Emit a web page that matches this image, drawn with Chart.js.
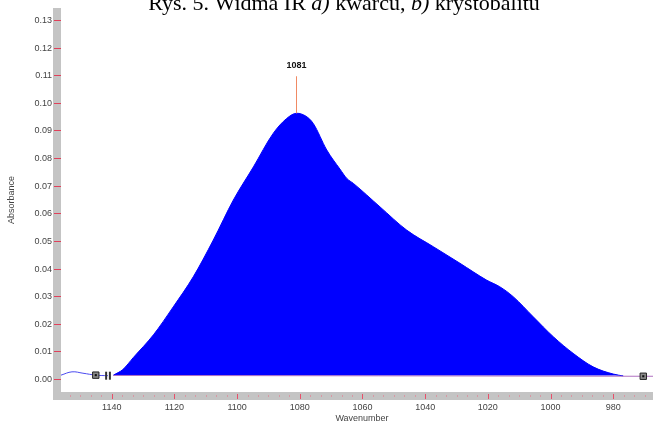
<!DOCTYPE html>
<html>
<head>
<meta charset="utf-8">
<script src="https://cdn.jsdelivr.net/npm/chart.js@4/dist/chart.umd.min.js"></script>
<style>
  html, body { margin: 0; padding: 0; background: #fff; overflow: hidden; }
  #wrap { position: relative; width: 653px; height: 425px; }
</style>
</head>
<body>
<div id="wrap"><canvas id="c" width="653" height="425"></canvas></div>
<script>
// IR absorption band of the sample (wavenumber in cm-1, absorbance)
const bandWave = [1139.5, 1136.5, 1133.1, 1126.7, 1120.4, 1114.0, 1107.6, 1101.2, 1094.8, 1088.5,
                  1084.2, 1081.0, 1078.0, 1075.7, 1071.4, 1067.2, 1065.0, 1062.9, 1054.4, 1045.9,
                  1037.4, 1028.9, 1020.4, 1016.2, 1011.9, 1005.5, 999.1, 992.8, 986.4, 980.0, 976.8];
const bandAbs  = [0.0016, 0.0036, 0.0080, 0.0162, 0.0263, 0.0372, 0.0505, 0.0650, 0.0770, 0.0891,
                  0.0945, 0.0964, 0.0953, 0.0927, 0.0831, 0.0762, 0.0728, 0.0710, 0.0625, 0.0541,
                  0.0481, 0.0421, 0.0360, 0.0336, 0.0300, 0.0227, 0.0155, 0.0095, 0.0046, 0.0020, 0.0013];

// spectrum outside the integrated band (left side)
const leftWave = [1156.2, 1152.7, 1149.2, 1145.1, 1141.2];
const leftAbs  = [0.0016, 0.0028, 0.0023, 0.0016, 0.0014];

// integration baseline
const baseWave = [1139.5, 970.4, 967.3];
const baseAbs  = [0.0015, 0.0012, 0.0012];
const baseLevel = 0.0015;

// baseline anchor markers
const markerWave = [1145.1, 970.4];
const markerAbs  = [0.0016, 0.0012];
const cursorWave = [1141.8, 1140.6];
const cursorAbs  = [0.0014, 0.0014];

// labelled peak
const peakWave = 1081;
const peakAbs  = 0.0964;

// axes
const xTickValues = [1140, 1120, 1100, 1080, 1060, 1040, 1020, 1000, 980];
const yTickValues = [0.00, 0.01, 0.02, 0.03, 0.04, 0.05, 0.06, 0.07, 0.08, 0.09, 0.10, 0.11, 0.12, 0.13];
const xMin = 967.3, xMax = 1156.2;
const yMin = -0.0045, yMax = 0.1345;

const titleParts = [
  ['Rys. 5. Widma IR ', false], ['a)', true], [' kwarcu, ', false], ['b)', true], [' krystobalitu', false]
];
const xAxisTitle = 'Wavenumber';
const yAxisTitle = 'Absorbance';

const pts = (xs, ys) => xs.map((x, i) => ({ x, y: ys[i] }));

Chart.defaults.font.family = '"Liberation Sans", Arial, sans-serif';

const decorations = {
  id: 'decorations',
  beforeDraw(chart) {
    const { ctx, chartArea: a } = chart;
    ctx.save();
    ctx.fillStyle = '#c4c4c4';
    ctx.fillRect(a.left - 8, a.top, 8, a.bottom - a.top + 8);
    ctx.fillRect(a.left - 8, a.bottom, a.right - a.left + 8, 8);
    // x-axis tick marks inside the grey band
    const xs = chart.scales.x;
    const minor = 20 / 6;
    for (let k = -30; k <= 60; k++) {
      const v = 1140 - k * minor;
      if (v < xMin || v > xMax) continue;
      const px = Math.round(xs.getPixelForValue(v)) + 0.5;
      const major = k % 6 === 0;
      ctx.strokeStyle = major ? '#e8506a' : '#d898a4';
      ctx.lineWidth = 1;
      ctx.beginPath();
      ctx.moveTo(px, a.bottom + (major ? 2 : 3));
      ctx.lineTo(px, a.bottom + (major ? 7 : 5));
      ctx.stroke();
    }
    ctx.restore();
  },
  afterDatasetsDraw(chart) {
    const { ctx } = chart;
    const xs = chart.scales.x, ys = chart.scales.y;
    const px = Math.round(xs.getPixelForValue(peakWave)) - 0.5;
    const py = ys.getPixelForValue(peakAbs);
    ctx.save();
    ctx.strokeStyle = '#f08a64';
    ctx.lineWidth = 1;
    ctx.beginPath();
    ctx.moveTo(px, py);
    ctx.lineTo(px, py - 37);
    ctx.stroke();
    ctx.fillStyle = '#111';
    ctx.font = 'bold 9px "Liberation Sans", Arial, sans-serif';
    ctx.textAlign = 'center';
    ctx.textBaseline = 'middle';
    ctx.fillText(String(peakWave), px, py - 48);
    ctx.restore();
  },
  afterDraw(chart) {
    const { ctx } = chart;
    ctx.save();
    // caption
    ctx.fillStyle = '#000';
    ctx.textBaseline = 'alphabetic';
    const fontFor = it => (it ? 'italic ' : '') + '22px "Liberation Serif", "Times New Roman", serif';
    let total = 0;
    titleParts.forEach(([t, it]) => { ctx.font = fontFor(it); total += ctx.measureText(t).width; });
    let x = 344 - total / 2;
    ctx.textAlign = 'left';
    titleParts.forEach(([t, it]) => { ctx.font = fontFor(it); ctx.fillText(t, x, 10); x += ctx.measureText(t).width; });
    // axis titles
    ctx.fillStyle = '#444';
    ctx.font = '9px "Liberation Sans", Arial, sans-serif';
    ctx.textAlign = 'center';
    ctx.textBaseline = 'middle';
    ctx.fillText(xAxisTitle, 362, 419);
    ctx.translate(12, 200);
    ctx.rotate(-Math.PI / 2);
    ctx.fillText(yAxisTitle, 0, 0);
    ctx.restore();
  }
};

new Chart(document.getElementById('c'), {
  type: 'line',
  data: {
    datasets: [
      {
        label: 'cursor',
        data: pts(cursorWave, cursorAbs),
        showLine: false,
        pointStyle: 'line',
        rotation: 90,
        pointRadius: 4,
        pointBorderWidth: 2,
        pointBorderColor: '#333',
        order: 0
      },
      {
        label: 'marker core',
        data: pts(markerWave, markerAbs),
        showLine: false,
        pointStyle: 'rect',
        pointRadius: 1.5,
        pointBackgroundColor: '#111',
        pointBorderWidth: 0,
        order: 0
      },
      {
        label: 'markers',
        data: pts(markerWave, markerAbs),
        showLine: false,
        pointStyle: 'rect',
        pointRadius: 4.5,
        pointBackgroundColor: '#8a8a8a',
        pointBorderColor: '#222',
        pointBorderWidth: 1,
        order: 1
      },
      {
        label: 'baseline',
        data: pts(baseWave, baseAbs),
        borderColor: '#b070c0',
        borderWidth: 1,
        pointRadius: 0,
        order: 2
      },
      {
        label: 'spectrum',
        data: pts(leftWave, leftAbs),
        borderColor: '#4a4af0',
        borderWidth: 1,
        pointRadius: 0,
        tension: 0.4,
        order: 3
      },
      {
        label: 'band',
        data: pts(bandWave, bandAbs),
        borderColor: '#0000ff',
        backgroundColor: '#0000ff',
        borderWidth: 1,
        pointRadius: 0,
        cubicInterpolationMode: 'monotone',
        fill: { value: baseLevel },
        order: 4
      }
    ]
  },
  options: {
    responsive: false,
    devicePixelRatio: 1,
    animation: false,
    layout: { autoPadding: false, padding: { top: 8, right: 0, bottom: 0, left: 0 } },
    plugins: { legend: { display: false }, tooltip: { enabled: false } },
    scales: {
      x: {
        type: 'linear',
        reverse: true,
        min: xMin,
        max: xMax,
        afterBuildTicks: s => { s.ticks = xTickValues.map(v => ({ value: v })); },
        afterFit: s => { s.height = 33; },
        ticks: {
          font: { size: 9 },
          color: '#444',
          padding: 10,
          maxRotation: 0,
          autoSkip: false,
          callback: v => String(v)
        },
        grid: { display: false, drawTicks: false },
        border: { display: false }
      },
      y: {
        min: yMin,
        max: yMax,
        afterBuildTicks: s => { s.ticks = yTickValues.map(v => ({ value: v })); },
        afterFit: s => { s.width = 61; },
        ticks: {
          font: { size: 9 },
          color: '#444',
          padding: 2,
          autoSkip: false,
          callback: v => Number(v).toFixed(2)
        },
        grid: {
          display: true,
          drawOnChartArea: false,
          drawTicks: true,
          tickLength: 7,
          tickColor: '#e0405a',
          color: '#e0405a'
        },
        border: { display: false }
      }
    }
  },
  plugins: [decorations]
});
</script>
</body>
</html>
